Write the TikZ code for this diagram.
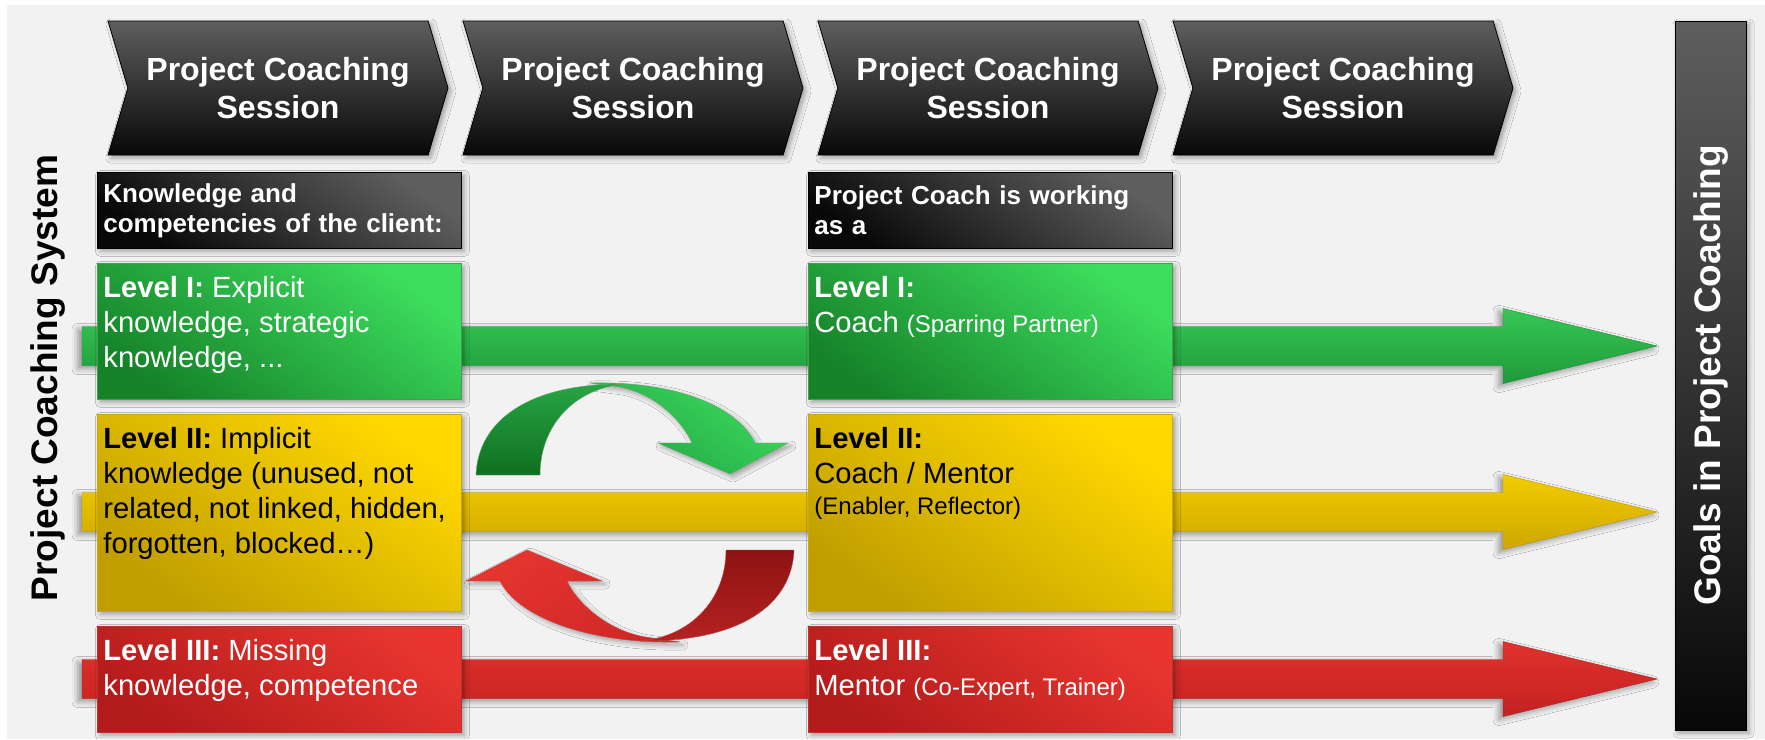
\documentclass[tikz,border=0pt]{standalone}
\usepackage{fontspec}
\setmainfont{Liberation Sans}
\usetikzlibrary{shapes.symbols, shadows.blur}

\definecolor{bgGray}{HTML}{F2F2F2}
\definecolor{chevTop}{HTML}{5E5E5E}
\definecolor{chevBot}{HTML}{080808}
\definecolor{grnLight}{HTML}{3DDE5F}
\definecolor{grnDark}{HTML}{168329}
\definecolor{ylwLight}{HTML}{FFD800}
\definecolor{ylwDark}{HTML}{C09E00}
\definecolor{redLight}{HTML}{E8352F}
\definecolor{redDark}{HTML}{B31B1B}
\definecolor{bandGL}{HTML}{36C756}
\definecolor{bandGD}{HTML}{1F9A39}
\definecolor{bandYL}{HTML}{F2CC00}
\definecolor{bandYD}{HTML}{CFA700}
\definecolor{bandRL}{HTML}{E0322D}
\definecolor{bandRD}{HTML}{C42121}
\definecolor{turnGL}{HTML}{3CDA5C}
\definecolor{turnGD}{HTML}{22A545}
\definecolor{tailGL}{HTML}{28A545}
\definecolor{tailGD}{HTML}{0F6F1F}
\definecolor{turnRL}{HTML}{E5352F}
\definecolor{turnRD}{HTML}{CF2727}
\definecolor{tailRL}{HTML}{8E1212}
\definecolor{tailRD}{HTML}{B52222}

% level text: fixed height, text at the top
\newcommand{\lvltext}[2]{\parbox[t][#1][t]{176pt}{\raggedright #2}}

\begin{document}
\begin{tikzpicture}[
        x = 0.5pt, y = 0.5pt, % one unit = one pixel of the 1765x739 sheet
        softshadow/.style = {blur shadow = {shadow xshift = 1.5pt, shadow yshift = -1.5pt,
            shadow blur radius = 2.5pt, shadow opacity = 35}},
        session/.style = {
            signal, signal from = west, signal to = east,
            signal pointer angle = 147,
            minimum width = 170pt, minimum height = 67pt, inner sep = 0pt,
            draw = black, top color = chevTop, bottom color = chevBot,
            text = white, align = center,
            font = \bfseries\fontsize{16}{19}\selectfont,
            softshadow
        },
        hdrbox/.style = {
            rectangle, anchor = north west, draw = black,
            top color = chevTop, bottom color = chevBot, shading angle = -35,
            text = white, text width = 176pt, align = left,
            inner xsep = 3pt, minimum height = 38pt,
            font = \bfseries\fontsize{13}{15}\selectfont,
            softshadow
        },
        lvlbox/.style = {
            rectangle, anchor = north west, inner xsep = 3pt, inner ysep = 6.5pt,
            font = \fontsize{14.6}{17.5}\selectfont, softshadow
        },
        lvlgreen/.style = {lvlbox, draw = grnDark!80, top color = grnLight,
            bottom color = grnDark, shading angle = -35, text = white},
        lvlyellow/.style = {lvlbox, draw = ylwDark!90, top color = ylwLight,
            bottom color = ylwDark, shading angle = -35, text = black},
        lvlred/.style = {lvlbox, draw = redDark!90, top color = redLight,
            bottom color = redDark, shading angle = -35, text = white}
    ]

    % sheet
    \useasboundingbox (0,0) rectangle (1765,-739);
    \fill[bgGray] (7,-5) rectangle (1765,-739);

    % level bands running to the goals
    \foreach \yc/\cl/\cd in {346/bandGL/bandGD, 512/bandYL/bandYD, 679/bandRL/bandRD}
        \shade[top color = \cl, bottom color = \cd, draw = \cd!90!black, very thin,
               blur shadow = {shadow xshift = -2pt, shadow yshift = -1.5pt,
                              shadow blur radius = 3pt, shadow opacity = 40}]
            (82,-\yc+19.5) -- (1503,-\yc+19.5) -- (1503,-\yc+37.5) -- (1657,-\yc)
            -- (1503,-\yc-37.5) -- (1503,-\yc-19.5) -- (82,-\yc-19.5) -- cycle;

    % sessions
    \foreach \i/\x in {1/108, 2/463, 3/818, 4/1173}
        \node[session] (s\i) at (\x+170,-88) {Project Coaching\\Session};

    % headers
    \node[hdrbox] (clientHdr) at (97,-172) {Knowledge and\\competencies of the client:};
    \node[hdrbox] (coachHdr) at (808,-172) {Project Coach is working\\as a};

    % client side
    \node[lvlgreen] (clientI) at (97,-263)
        {\lvltext{55pt}{\textbf{Level I:} Explicit\\knowledge, strategic\\knowledge, ...}};
    \node[lvlyellow] (clientII) at (97,-414)
        {\lvltext{85.5pt}{\textbf{Level II:} Implicit\\knowledge (unused, not\\related, not linked, hidden,\\forgotten, blocked\dots)}};
    \node[lvlred] (clientIII) at (97,-626)
        {\lvltext{40pt}{\textbf{Level III:} Missing\\knowledge, competence}};

    % coach side
    \node[lvlgreen] (coachI) at (808,-263)
        {\lvltext{55pt}{\textbf{Level I:}\\Coach {\fontsize{12}{15}\selectfont(Sparring Partner)}}};
    \node[lvlyellow] (coachII) at (808,-414)
        {\lvltext{85.5pt}{\textbf{Level II:}\\Coach / Mentor\\[-2pt]{\fontsize{12}{15}\selectfont(Enabler, Reflector)}}};
    \node[lvlred] (coachIII) at (808,-626)
        {\lvltext{40pt}{\textbf{Level III:}\\Mentor {\fontsize{12}{15}\selectfont(Co-Expert, Trainer)}}};

    % turning arrows between the levels
    \shade[top color = turnGL, bottom color = turnGD, shading angle = -35,
           draw = grnDark!70, very thin, softshadow]
        (590,-383) .. controls (680,-381) and (738,-408) .. (755,-443)
        -- (788,-443) -- (730,-474) -- (658,-443) -- (692,-443)
        .. controls (684,-425) and (660,-395) .. (620,-387) -- cycle;
    \shade[top color = tailGL, bottom color = tailGD, draw = grnDark!70, very thin]
        (476,-475) .. controls (478,-420) and (530,-383) .. (625,-384)
        .. controls (575,-388) and (540,-425) .. (540,-475) -- cycle;

    \shade[top color = turnRL, bottom color = turnRD, shading angle = 35,
           draw = redDark!80, very thin, softshadow]
        (680,-642) .. controls (588,-644) and (518,-617) .. (500,-581)
        -- (466,-581) -- (527,-550) -- (602,-581) -- (567,-581)
        .. controls (575,-600) and (605,-630) .. (645,-637) -- cycle;
    \shade[top color = tailRL, bottom color = tailRD, draw = redDark!80, very thin]
        (794,-550) .. controls (792,-605) and (740,-642) .. (640,-641)
        .. controls (690,-637) and (726,-600) .. (726,-550) -- cycle;

    % goals
    \node[rotate = 90, draw = black, top color = chevTop, bottom color = chevBot,
          minimum width = 354.5pt, minimum height = 35.5pt, inner sep = 0pt,
          text = white, font = \bfseries\fontsize{18.5}{22}\selectfont, softshadow]
        (goals) at (1710.5,-375.5) {Goals in Project Coaching};

    % system label
    \node[rotate = 90, font = \bfseries\fontsize{18.5}{22}\selectfont]
        (sysLabel) at (48,-378) {Project Coaching System};

\end{tikzpicture}
\end{document}
